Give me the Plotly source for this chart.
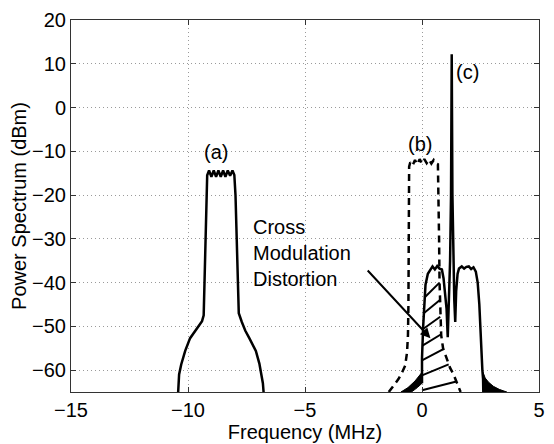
import numpy as np
import plotly.graph_objects as go

# ---- data ----
a_freq = [-10.42, -10.38, -10.29, -10.12, -9.91, -9.7, -9.56, -9.4, -9.33, -9.29, -9.25, -9.21,
          -9.18, -9.1, -9.0, -8.9, -8.8, -8.7, -8.6, -8.5, -8.4, -8.3, -8.2, -8.1, -8.02,
          -7.97, -7.92, -7.87, -7.83, -7.7, -7.55, -7.38, -7.2, -7.1, -6.95, -6.89, -6.8, -6.77]
a_db = [-65, -61, -58.7, -55.6, -52.7, -51, -49.9, -48.8, -47.5, -40, -30, -20,
        -15.5, -14.4, -15.8, -14.4, -15.8, -14.4, -15.8, -14.4, -15.8, -14.4, -15.6, -14.4, -15.4,
        -20, -30, -40, -47, -49, -51, -52.7, -54.5, -55.6, -58.5, -60.2, -63, -65]

b_freq = [-1.42, -1.2, -1.0, -0.85, -0.72, -0.64, -0.6, -0.58, -0.57, -0.56, -0.55, -0.5, -0.4,
          -0.3, -0.2, -0.1, 0.0, 0.1, 0.2, 0.3, 0.4, 0.5, 0.6, 0.68, 0.71, 0.73, 0.75, 0.78, 0.82,
          0.9, 1.05, 1.2, 1.35, 1.5, 1.65]
b_db = [-65, -63.5, -62, -60.5, -59, -56, -52, -45, -35, -22, -13.5, -12.5, -13.2,
        -12, -13, -11.8, -12.8, -11.8, -12.7, -11.9, -12.8, -12, -12.8, -13, -20, -30, -40, -48, -52,
        -55, -57.5, -59.5, -61, -63, -65]

c_freq = [0.0, 0.0, 0.05, 0.1, 0.15, 0.25, 0.35, 0.45, 0.55, 0.65, 0.75, 0.85, 0.92, 0.98, 1.05,
          1.1, 1.14, 1.2, 1.24, 1.27, 1.3, 1.34, 1.38, 1.42, 1.46, 1.52, 1.58, 1.7, 1.8, 1.9, 2.0,
          2.1, 2.2, 2.3, 2.38, 2.45, 2.52, 2.58, 2.61, 2.62]
c_db = [-63, -57.3, -50, -44, -40.5, -38, -37, -36.3, -37, -36.2, -36.8, -37, -39, -42, -46,
        -52.5, -45, -35, -20, 12.2, -20, -35, -44, -49, -42, -38, -36.8, -36.3, -36.8, -36.4, -36.3,
        -36.9, -36.5, -37.5, -40, -45, -55, -60, -62, -65]

# dense spectral skirts of (c), drawn as filled wedges
wedge_left_freq = [-0.9, -0.6, -0.3, -0.08, 0.0, 0.0, -0.2, -0.45, -0.9]
wedge_left_db = [-65, -64, -62.5, -61, -60.5, -63, -64, -65, -65]
wedge_right_freq = [2.61, 2.7, 2.85, 3.05, 3.3, 3.62, 2.61]
wedge_right_db = [-60.5, -61.8, -62.8, -63.7, -64.4, -65, -65]

# hatch lines of the cross-modulation region: start level (dB) on the left edge, rise (dB)
hatch_start_db = [-64.6, -61.2, -57.8, -54.4, -50.6, -47.0, -43.4]
hatch_rise_db = [2.0, 2.5, 2.6, 2.6, 2.8, 3.0, 3.4]

x_ticks = [-15, -10, -5, 0, 5]
y_ticks = [20, 10, 0, -10, -20, -30, -40, -50, -60]

curve_labels = ["(a)", "(b)", "(c)"]
label_freq = [-8.8, -0.1, 1.95]
label_db = [-10.2, -8.3, 8.1]

FONT = "Liberation Sans, Arial, Helvetica, sans-serif"
FS = 20

fig = go.Figure()

# left edge of (c) and right edge of (b) bound the hatched region
cl_f = np.array(c_freq[0:7])
cl_d = np.array(c_db[0:7])
br_f = np.array(b_freq[23:])[::-1]
br_d = np.array(b_db[23:])[::-1]
hx, hy = [], []
for y0, r in zip(hatch_start_db, hatch_rise_db):
    y1 = y0 + r
    hx += [float(np.interp(y0, cl_d, cl_f)), float(np.interp(y1, br_d, br_f)), None]
    hy += [y0, y1, None]
fig.add_trace(go.Scatter(x=hx, y=hy, mode="lines", line=dict(color="black", width=2),
                         hoverinfo="skip", showlegend=False))

fig.add_trace(go.Scatter(x=wedge_left_freq, y=wedge_left_db, mode="lines", fill="toself",
                         fillcolor="black", line=dict(color="black", width=1), showlegend=False))
fig.add_trace(go.Scatter(x=wedge_right_freq, y=wedge_right_db, mode="lines", fill="toself",
                         fillcolor="black", line=dict(color="black", width=1), showlegend=False))

fig.add_trace(go.Scatter(x=a_freq, y=a_db, mode="lines",
                         line=dict(color="black", width=2.5), showlegend=False))
fig.add_trace(go.Scatter(x=b_freq, y=b_db, mode="lines",
                         line=dict(color="black", width=2.5, dash="7px,5px"), showlegend=False))
fig.add_trace(go.Scatter(x=c_freq, y=c_db, mode="lines",
                         line=dict(color="black", width=2.5), showlegend=False))

for t, xf, yd in zip(curve_labels, label_freq, label_db):
    fig.add_annotation(x=xf, y=yd, text=t, showarrow=False,
                       font=dict(family=FONT, size=FS, color="black"))

fig.add_annotation(x=-7.3, y=-33.3, text="Cross<br>Modulation<br>Distortion",
                   showarrow=False, xanchor="left", yanchor="middle", align="left",
                   font=dict(family=FONT, size=FS, color="black"))
fig.add_annotation(x=0.36, y=-52.7, ax=-2.38, ay=-36.9, axref="x", ayref="y",
                   xref="x", yref="y", text="", showarrow=True,
                   arrowhead=2, arrowsize=1, arrowwidth=2, arrowcolor="black")

axis_common = dict(showgrid=True, gridcolor="#9a9a9a", griddash="1px,3px", gridwidth=1,
                   showline=True, linecolor="#333333", linewidth=1, mirror="ticks",
                   ticks="inside", ticklen=5, tickcolor="#333333", zeroline=False,
                   tickfont=dict(family=FONT, size=FS, color="black"))

fig.update_xaxes(range=[-15, 5], tickvals=x_ticks, ticktext=[str(v).replace("-", "\u2212") for v in x_ticks],
                 title=dict(text="Frequency (MHz)", font=dict(family=FONT, size=FS, color="black"), standoff=0),
                 **axis_common)
fig.update_yaxes(range=[-65, 20], tickvals=y_ticks, ticktext=[str(v).replace("-", "\u2212") for v in y_ticks],
                 title=dict(text="Power Spectrum (dBm)", font=dict(family=FONT, size=FS, color="black"), standoff=0),
                 **axis_common)

fig.update_layout(width=554, height=444, margin=dict(l=71, r=9, t=20, b=50),
                  paper_bgcolor="white", plot_bgcolor="white", showlegend=False)

fig.write_html("out.html")
